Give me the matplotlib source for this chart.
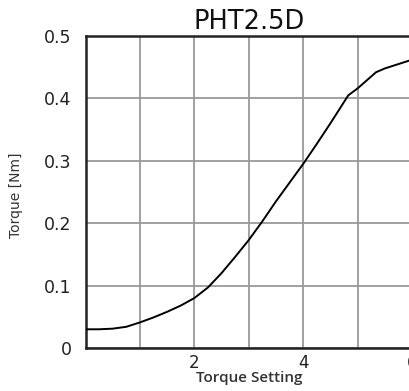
import matplotlib
matplotlib.use("Agg")
import matplotlib.pyplot as plt
from matplotlib.ticker import MultipleLocator, FixedLocator

# curve
setting = [0, 0.25, 0.5, 0.75, 1.0, 1.25, 1.5, 1.75, 2.0, 2.25, 2.5, 2.75, 3.0,
           3.25, 3.5, 3.75, 4.0, 4.25, 4.5, 4.83, 5.0, 5.34, 5.5, 5.75, 6.0]
torque = [0.030, 0.030, 0.031, 0.034, 0.041, 0.049, 0.058, 0.068, 0.080, 0.097,
          0.120, 0.146, 0.173, 0.203, 0.235, 0.265, 0.295, 0.327, 0.360, 0.405,
          0.416, 0.442, 0.448, 0.455, 0.462]

x_ticks = [2, 4, 6]
x_labels = ["2", "4", "6"]
y_ticks = [0, 0.1, 0.2, 0.3, 0.4, 0.5]
y_labels = ["0", "0.1", "0.2", "0.3", "0.4", "0.5"]

fig = plt.figure(figsize=(4.09, 3.91), dpi=100)
# right edge of the axes runs past the figure, as in the reference
ax = fig.add_axes([85.5 / 409, 43 / 391, 326.5 / 409, 312 / 391])

ax.plot(setting, torque, color="black", lw=1.4, zorder=3)

ax.set_xlim(0, 6)
ax.set_ylim(0, 0.5)
ax.xaxis.set_major_locator(FixedLocator(x_ticks))
ax.xaxis.set_minor_locator(MultipleLocator(1))
ax.set_xticks(x_ticks, x_labels)
ax.set_yticks(y_ticks, y_labels)
ax.grid(True, which="both", color="#9a9a9a", lw=1.3)
ax.set_axisbelow(True)
ax.tick_params(which="both", length=0)
ax.tick_params(axis="x", pad=4, labelsize=12, labelcolor="#222222")
ax.tick_params(axis="y", pad=10, labelsize=12.5, labelcolor="#222222")

for side in ["left", "bottom", "top"]:
    ax.spines[side].set_linewidth(1.8)
    ax.spines[side].set_color("#222222")

ax.set_title("PHT2.5D", fontsize=18.5, pad=5, color="#111111")
ax.set_xlabel("Torque Setting", fontsize=11, fontweight="semibold",
              family=["Open Sans", "DejaVu Sans"], labelpad=-3, color="#333333")
ax.xaxis.set_label_coords(0.5, -0.075)
ax.set_ylabel("Torque [Nm]", fontsize=10, family=["Liberation Sans Narrow", "DejaVu Sans"],
              color="#333333")
ax.yaxis.set_label_coords(-0.19, 0.49)

plt.savefig("out.png", dpi=100)
plt.close(fig)
